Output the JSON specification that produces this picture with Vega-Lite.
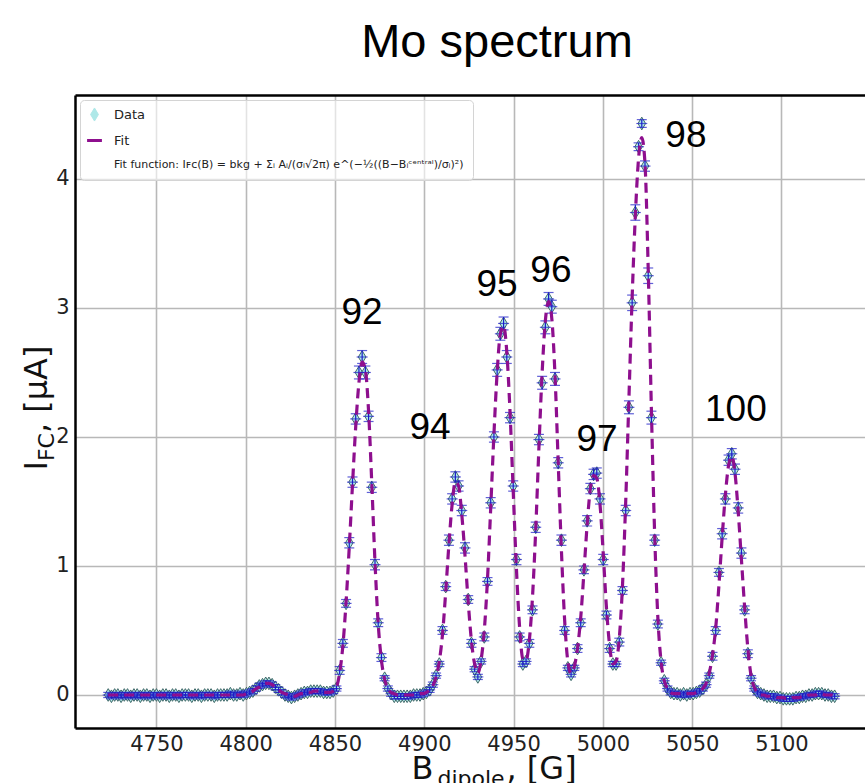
{
"$schema": "https://vega.github.io/schema/vega-lite/v6.json",
"width": 790,
"height": 633,
"autosize": {"type": "none"},
"padding": {"left": 75, "top": 95, "right": 0, "bottom": 55},
"background": "white",
"config": {"view": {"stroke": null}, "font": "DejaVu Sans"},
"title": {"text": "Mo spectrum", "font": "Liberation Sans", "fontSize": 47, "fontWeight": "normal", "color": "#000000", "anchor": "middle", "dx": 27, "dy": 46, "offset": 37, "baseline": "alphabetic"},
"datasets": {
"spectrum": [
{"B":4723.0,"I":0.00,"err":0.02,"fit":0.00},{"B":4724.8,"I":-0.01,"err":0.02,"fit":0.00},{"B":4726.6,"I":0.00,"err":0.02,"fit":0.00},{"B":4728.4,"I":0.00,"err":0.02,"fit":0.00},{"B":4730.2,"I":-0.01,"err":0.02,"fit":0.00},{"B":4732.0,"I":0.00,"err":0.02,"fit":0.00},{"B":4733.8,"I":0.00,"err":0.02,"fit":0.00},{"B":4735.6,"I":-0.01,"err":0.02,"fit":0.00},{"B":4737.4,"I":0.00,"err":0.02,"fit":0.00},{"B":4739.2,"I":0.00,"err":0.02,"fit":0.00},
{"B":4741.0,"I":-0.01,"err":0.02,"fit":0.00},{"B":4742.8,"I":0.00,"err":0.02,"fit":0.00},{"B":4744.6,"I":0.00,"err":0.02,"fit":0.00},{"B":4746.4,"I":-0.01,"err":0.02,"fit":0.00},{"B":4748.2,"I":0.00,"err":0.02,"fit":0.00},{"B":4750.0,"I":0.00,"err":0.02,"fit":0.00},{"B":4751.8,"I":-0.01,"err":0.02,"fit":0.00},{"B":4753.6,"I":0.00,"err":0.02,"fit":0.00},{"B":4755.4,"I":0.00,"err":0.02,"fit":0.00},{"B":4757.2,"I":-0.01,"err":0.02,"fit":0.00},
{"B":4759.0,"I":0.00,"err":0.02,"fit":0.00},{"B":4760.8,"I":0.00,"err":0.02,"fit":0.00},{"B":4762.6,"I":-0.01,"err":0.02,"fit":0.00},{"B":4764.4,"I":0.00,"err":0.02,"fit":0.00},{"B":4766.2,"I":0.00,"err":0.02,"fit":0.00},{"B":4768.0,"I":0.00,"err":0.02,"fit":0.00},{"B":4769.8,"I":-0.01,"err":0.02,"fit":0.00},{"B":4771.6,"I":0.00,"err":0.02,"fit":0.00},{"B":4773.4,"I":0.00,"err":0.02,"fit":0.00},{"B":4775.2,"I":-0.01,"err":0.02,"fit":0.00},
{"B":4777.0,"I":0.00,"err":0.02,"fit":0.00},{"B":4778.8,"I":0.00,"err":0.02,"fit":0.00},{"B":4780.6,"I":0.00,"err":0.02,"fit":0.00},{"B":4782.4,"I":-0.01,"err":0.02,"fit":0.00},{"B":4784.2,"I":0.00,"err":0.02,"fit":0.00},{"B":4786.0,"I":0.00,"err":0.02,"fit":0.00},{"B":4787.8,"I":0.00,"err":0.02,"fit":0.00},{"B":4789.6,"I":0.00,"err":0.02,"fit":0.00},{"B":4791.4,"I":0.01,"err":0.02,"fit":0.00},{"B":4793.2,"I":0.00,"err":0.02,"fit":0.00},
{"B":4795.0,"I":0.00,"err":0.02,"fit":0.00},{"B":4796.8,"I":0.01,"err":0.02,"fit":0.00},{"B":4798.6,"I":0.00,"err":0.02,"fit":0.00},{"B":4800.4,"I":0.01,"err":0.02,"fit":0.01},{"B":4802.2,"I":0.02,"err":0.02,"fit":0.02},{"B":4804.0,"I":0.03,"err":0.02,"fit":0.03},{"B":4805.8,"I":0.05,"err":0.02,"fit":0.05},{"B":4807.6,"I":0.07,"err":0.02,"fit":0.06},{"B":4809.4,"I":0.08,"err":0.02,"fit":0.08},{"B":4811.2,"I":0.09,"err":0.02,"fit":0.09},
{"B":4813.0,"I":0.09,"err":0.02,"fit":0.09},{"B":4814.8,"I":0.08,"err":0.02,"fit":0.08},{"B":4816.6,"I":0.06,"err":0.02,"fit":0.06},{"B":4818.4,"I":0.04,"err":0.02,"fit":0.04},{"B":4820.2,"I":0.02,"err":0.02,"fit":0.02},{"B":4822.0,"I":0.00,"err":0.02,"fit":0.01},{"B":4823.8,"I":-0.01,"err":0.02,"fit":0.00},{"B":4825.6,"I":-0.02,"err":0.02,"fit":-0.01},{"B":4827.4,"I":-0.01,"err":0.02,"fit":-0.01},{"B":4829.2,"I":0.00,"err":0.02,"fit":0.00},
{"B":4831.0,"I":0.01,"err":0.02,"fit":0.01},{"B":4832.8,"I":0.02,"err":0.02,"fit":0.01},{"B":4834.6,"I":0.02,"err":0.02,"fit":0.02},{"B":4836.4,"I":0.03,"err":0.02,"fit":0.02},{"B":4838.2,"I":0.03,"err":0.02,"fit":0.03},{"B":4840.0,"I":0.03,"err":0.02,"fit":0.03},{"B":4841.8,"I":0.03,"err":0.02,"fit":0.03},{"B":4843.6,"I":0.02,"err":0.02,"fit":0.02},{"B":4845.4,"I":0.02,"err":0.02,"fit":0.02},{"B":4847.2,"I":0.02,"err":0.02,"fit":0.02},
{"B":4849.0,"I":0.03,"err":0.02,"fit":0.03},{"B":4850.8,"I":0.05,"err":0.02,"fit":0.06},{"B":4852.6,"I":0.19,"err":0.03,"fit":0.17},{"B":4854.4,"I":0.40,"err":0.03,"fit":0.38},{"B":4856.2,"I":0.71,"err":0.03,"fit":0.72},{"B":4858.0,"I":1.18,"err":0.04,"fit":1.15},{"B":4859.8,"I":1.65,"err":0.04,"fit":1.63},{"B":4861.6,"I":2.14,"err":0.04,"fit":2.08},{"B":4863.4,"I":2.50,"err":0.05,"fit":2.42},{"B":4865.2,"I":2.62,"err":0.05,"fit":2.58},
{"B":4867.0,"I":2.50,"err":0.05,"fit":2.52},{"B":4868.8,"I":2.16,"err":0.04,"fit":2.20},{"B":4870.6,"I":1.61,"err":0.04,"fit":1.64},{"B":4872.4,"I":1.01,"err":0.04,"fit":1.03},{"B":4874.2,"I":0.56,"err":0.03,"fit":0.55},{"B":4876.0,"I":0.29,"err":0.03,"fit":0.27},{"B":4877.8,"I":0.13,"err":0.02,"fit":0.12},{"B":4879.6,"I":0.05,"err":0.02,"fit":0.05},{"B":4881.4,"I":0.01,"err":0.02,"fit":0.02},{"B":4883.2,"I":-0.01,"err":0.02,"fit":0.01},
{"B":4885.0,"I":-0.01,"err":0.02,"fit":0.00},{"B":4886.8,"I":-0.01,"err":0.02,"fit":0.00},{"B":4888.6,"I":-0.01,"err":0.02,"fit":0.00},{"B":4890.4,"I":-0.01,"err":0.02,"fit":0.00},{"B":4892.2,"I":-0.01,"err":0.02,"fit":0.00},{"B":4894.0,"I":0.00,"err":0.02,"fit":0.00},{"B":4895.8,"I":0.00,"err":0.02,"fit":0.00},{"B":4897.6,"I":0.00,"err":0.02,"fit":0.01},{"B":4899.4,"I":0.01,"err":0.02,"fit":0.01},{"B":4901.2,"I":0.02,"err":0.02,"fit":0.02},
{"B":4903.0,"I":0.04,"err":0.02,"fit":0.04},{"B":4904.8,"I":0.08,"err":0.02,"fit":0.07},{"B":4906.6,"I":0.15,"err":0.02,"fit":0.14},{"B":4908.4,"I":0.24,"err":0.02,"fit":0.26},{"B":4910.2,"I":0.50,"err":0.03,"fit":0.47},{"B":4912.0,"I":0.84,"err":0.03,"fit":0.80},{"B":4913.8,"I":1.20,"err":0.04,"fit":1.17},{"B":4915.6,"I":1.52,"err":0.04,"fit":1.48},{"B":4917.4,"I":1.69,"err":0.04,"fit":1.65},{"B":4919.2,"I":1.62,"err":0.04,"fit":1.62},
{"B":4921.0,"I":1.43,"err":0.04,"fit":1.40},{"B":4922.8,"I":1.14,"err":0.04,"fit":1.08},{"B":4924.6,"I":0.74,"err":0.03,"fit":0.72},{"B":4926.4,"I":0.40,"err":0.03,"fit":0.42},{"B":4928.2,"I":0.20,"err":0.02,"fit":0.24},{"B":4930.0,"I":0.14,"err":0.02,"fit":0.17},{"B":4931.8,"I":0.26,"err":0.02,"fit":0.27},{"B":4933.6,"I":0.45,"err":0.03,"fit":0.50},{"B":4935.4,"I":0.88,"err":0.03,"fit":0.90},{"B":4937.2,"I":1.49,"err":0.04,"fit":1.45},
{"B":4939.0,"I":2.00,"err":0.04,"fit":2.02},{"B":4940.8,"I":2.52,"err":0.05,"fit":2.50},{"B":4942.6,"I":2.80,"err":0.05,"fit":2.80},{"B":4944.4,"I":2.88,"err":0.05,"fit":2.86},{"B":4946.2,"I":2.62,"err":0.05,"fit":2.66},{"B":4948.0,"I":2.15,"err":0.04,"fit":2.20},{"B":4949.8,"I":1.62,"err":0.04,"fit":1.58},{"B":4951.6,"I":1.05,"err":0.04,"fit":0.98},{"B":4953.4,"I":0.45,"err":0.03,"fit":0.52},{"B":4955.2,"I":0.24,"err":0.02,"fit":0.28},
{"B":4957.0,"I":0.26,"err":0.02,"fit":0.27},{"B":4958.8,"I":0.40,"err":0.03,"fit":0.42},{"B":4960.6,"I":0.66,"err":0.03,"fit":0.76},{"B":4962.4,"I":1.30,"err":0.04,"fit":1.28},{"B":4964.2,"I":1.98,"err":0.04,"fit":1.92},{"B":4966.0,"I":2.42,"err":0.05,"fit":2.50},{"B":4967.8,"I":2.85,"err":0.05,"fit":2.90},{"B":4969.6,"I":3.07,"err":0.05,"fit":3.05},{"B":4971.4,"I":3.01,"err":0.05,"fit":2.92},{"B":4973.2,"I":2.45,"err":0.05,"fit":2.48},
{"B":4975.0,"I":1.80,"err":0.04,"fit":1.80},{"B":4976.8,"I":1.20,"err":0.04,"fit":1.12},{"B":4978.6,"I":0.50,"err":0.03,"fit":0.58},{"B":4980.4,"I":0.21,"err":0.02,"fit":0.26},{"B":4982.2,"I":0.16,"err":0.02,"fit":0.17},{"B":4984.0,"I":0.21,"err":0.02,"fit":0.22},{"B":4985.8,"I":0.36,"err":0.03,"fit":0.36},{"B":4987.6,"I":0.56,"err":0.03,"fit":0.60},{"B":4989.4,"I":0.97,"err":0.03,"fit":0.95},{"B":4991.2,"I":1.35,"err":0.04,"fit":1.32},
{"B":4993.0,"I":1.60,"err":0.04,"fit":1.60},{"B":4994.8,"I":1.71,"err":0.04,"fit":1.70},{"B":4996.6,"I":1.72,"err":0.04,"fit":1.68},{"B":4998.4,"I":1.52,"err":0.04,"fit":1.48},{"B":5000.2,"I":1.05,"err":0.04,"fit":1.10},{"B":5002.0,"I":0.62,"err":0.03,"fit":0.68},{"B":5003.8,"I":0.36,"err":0.03,"fit":0.38},{"B":5005.6,"I":0.24,"err":0.02,"fit":0.24},{"B":5007.4,"I":0.24,"err":0.02,"fit":0.26},{"B":5009.2,"I":0.41,"err":0.03,"fit":0.44},
{"B":5011.0,"I":0.81,"err":0.03,"fit":0.85},{"B":5012.8,"I":1.43,"err":0.04,"fit":1.50},{"B":5014.6,"I":2.23,"err":0.05,"fit":2.30},{"B":5016.4,"I":3.04,"err":0.06,"fit":3.08},{"B":5018.2,"I":3.74,"err":0.06,"fit":3.72},{"B":5020.0,"I":4.25,"err":0.03,"fit":4.16},{"B":5021.8,"I":4.43,"err":0.03,"fit":4.32},{"B":5023.6,"I":4.10,"err":0.04,"fit":4.12},{"B":5025.4,"I":3.25,"err":0.06,"fit":3.30},{"B":5027.2,"I":2.15,"err":0.05,"fit":2.20},
{"B":5029.0,"I":1.20,"err":0.04,"fit":1.25},{"B":5030.8,"I":0.55,"err":0.03,"fit":0.60},{"B":5032.6,"I":0.25,"err":0.02,"fit":0.26},{"B":5034.4,"I":0.11,"err":0.02,"fit":0.11},{"B":5036.2,"I":0.05,"err":0.02,"fit":0.05},{"B":5038.0,"I":0.02,"err":0.02,"fit":0.02},{"B":5039.8,"I":0.01,"err":0.02,"fit":0.01},{"B":5041.6,"I":0.01,"err":0.02,"fit":0.01},{"B":5043.4,"I":0.00,"err":0.02,"fit":0.01},{"B":5045.2,"I":0.01,"err":0.02,"fit":0.01},
{"B":5047.0,"I":0.00,"err":0.02,"fit":0.01},{"B":5048.8,"I":0.01,"err":0.02,"fit":0.01},{"B":5050.6,"I":0.01,"err":0.02,"fit":0.01},{"B":5052.4,"I":0.02,"err":0.02,"fit":0.02},{"B":5054.2,"I":0.03,"err":0.02,"fit":0.03},{"B":5056.0,"I":0.05,"err":0.02,"fit":0.05},{"B":5057.8,"I":0.08,"err":0.02,"fit":0.09},{"B":5059.6,"I":0.15,"err":0.02,"fit":0.17},{"B":5061.4,"I":0.30,"err":0.03,"fit":0.31},{"B":5063.2,"I":0.50,"err":0.03,"fit":0.52},
{"B":5065.0,"I":0.95,"err":0.03,"fit":0.85},{"B":5066.8,"I":1.25,"err":0.04,"fit":1.22},{"B":5068.6,"I":1.52,"err":0.04,"fit":1.55},{"B":5070.4,"I":1.82,"err":0.04,"fit":1.78},{"B":5072.2,"I":1.87,"err":0.04,"fit":1.85},{"B":5074.0,"I":1.75,"err":0.04,"fit":1.72},{"B":5075.8,"I":1.45,"err":0.04,"fit":1.42},{"B":5077.6,"I":1.10,"err":0.04,"fit":1.05},{"B":5079.4,"I":0.66,"err":0.03,"fit":0.68},{"B":5081.2,"I":0.32,"err":0.03,"fit":0.36},
{"B":5083.0,"I":0.13,"err":0.02,"fit":0.15},{"B":5084.8,"I":0.05,"err":0.02,"fit":0.06},{"B":5086.6,"I":0.02,"err":0.02,"fit":0.02},{"B":5088.4,"I":0.01,"err":0.02,"fit":0.00},{"B":5090.2,"I":0.00,"err":0.02,"fit":0.00},{"B":5092.0,"I":-0.01,"err":0.02,"fit":-0.01},{"B":5093.8,"I":-0.01,"err":0.02,"fit":-0.01},{"B":5095.6,"I":-0.01,"err":0.02,"fit":-0.01},{"B":5097.4,"I":-0.02,"err":0.02,"fit":-0.02},{"B":5099.2,"I":-0.02,"err":0.02,"fit":-0.02},
{"B":5101.0,"I":-0.03,"err":0.02,"fit":-0.02},{"B":5102.8,"I":-0.03,"err":0.02,"fit":-0.03},{"B":5104.6,"I":-0.03,"err":0.02,"fit":-0.03},{"B":5106.4,"I":-0.03,"err":0.02,"fit":-0.02},{"B":5108.2,"I":-0.02,"err":0.02,"fit":-0.02},{"B":5110.0,"I":-0.02,"err":0.02,"fit":-0.02},{"B":5111.8,"I":-0.01,"err":0.02,"fit":-0.01},{"B":5113.6,"I":-0.01,"err":0.02,"fit":-0.01},{"B":5115.4,"I":0.00,"err":0.02,"fit":0.00},{"B":5117.2,"I":0.00,"err":0.02,"fit":0.00},
{"B":5119.0,"I":0.01,"err":0.02,"fit":0.00},{"B":5120.8,"I":0.01,"err":0.02,"fit":0.01},{"B":5122.6,"I":0.01,"err":0.02,"fit":0.01},{"B":5124.4,"I":0.00,"err":0.02,"fit":0.00},{"B":5126.2,"I":0.00,"err":0.02,"fit":0.00},{"B":5128.0,"I":-0.01,"err":0.02,"fit":0.00},{"B":5129.8,"I":-0.01,"err":0.02,"fit":-0.01}
],
"peaks": [
{"label":"92","B":4865.1,"I":2.96},
{"label":"94","B":4903.2,"I":2.07},
{"label":"95","B":4940.7,"I":3.18},
{"label":"96","B":4970.9,"I":3.29},
{"label":"97","B":4996.7,"I":1.98},
{"label":"98","B":5046.5,"I":4.33},
{"label":"100","B":5074.5,"I":2.21}
]
},
"resolve": {"scale": {"x": "independent", "y": "independent"}, "axis": {"x": "independent", "y": "independent"}},
"layer": [
{
"data": {"name": "spectrum"},
"mark": {"type": "point", "shape": "M0,-1L0.6,0L0,1L-0.6,0Z", "filled": true, "fill": "#aee8e8", "stroke": "#2f5a5a", "strokeWidth": 0.9, "size": 160, "opacity": 1},
"encoding": {
"x": {"field": "B", "type": "quantitative", "scale": {"domain": [4704.4, 5146.8], "nice": false, "zero": false},
"axis": {"orient": "bottom", "values": [4750,4800,4850,4900,4950,5000,5050,5100], "format": "d", "labelFont": "DejaVu Sans", "labelFontSize": 21, "labelColor": "#222222", "labelPadding": 5, "labelFlush": false, "labelOverlap": false, "ticks": false, "grid": true, "gridColor": "#b8b8b8", "gridWidth": 1.6, "domain": true, "domainColor": "#000000", "domainWidth": 2.5, "title": "B", "titleFont": "DejaVu Sans", "titleFontSize": 32, "titleFontWeight": "normal", "titleColor": "#111111", "titleX": 336, "titleY": 50, "titleAlign": "left", "titleBaseline": "alphabetic", "titleAngle": 0}},
"y": {"field": "I", "type": "quantitative", "scale": {"domain": [-0.256, 4.651], "nice": false, "zero": false},
"axis": {"orient": "left", "values": [0,1,2,3,4], "format": "d", "labelFont": "DejaVu Sans", "labelFontSize": 21, "labelColor": "#222222", "labelPadding": 6, "labelFlush": false, "labelOverlap": false, "ticks": false, "grid": true, "gridColor": "#b8b8b8", "gridWidth": 1.6, "domain": true, "domainColor": "#000000", "domainWidth": 2.5, "title": "I", "titleFont": "DejaVu Sans", "titleFontSize": 32, "titleFontWeight": "normal", "titleColor": "#111111", "titleX": -29, "titleY": 375, "titleAngle": 270, "titleAlign": "left", "titleBaseline": "alphabetic"}}
}
},
{
"data": {"name": "spectrum"},
"mark": {"type": "errorbar", "ticks": {"size": 10, "thickness": 1.2}, "color": "#1c1cc8", "thickness": 1.2},
"encoding": {
"x": {"field": "B", "type": "quantitative", "scale": {"domain": [4704.4, 5146.8], "nice": false, "zero": false},
"axis": {"orient": "bottom", "labels": false, "ticks": false, "grid": false, "domain": false, "title": "dipole", "titleFont": "DejaVu Sans", "titleFontSize": 22, "titleFontWeight": "normal", "titleColor": "#111111", "titleX": 362, "titleY": 57, "titleAlign": "left", "titleBaseline": "alphabetic", "titleAngle": 0}},
"y": {"field": "I", "type": "quantitative", "scale": {"domain": [-0.256, 4.651], "nice": false, "zero": false},
"axis": {"orient": "left", "labels": false, "ticks": false, "grid": false, "domain": false, "title": "FC", "titleFont": "DejaVu Sans", "titleFontSize": 22, "titleFontWeight": "normal", "titleColor": "#111111", "titleX": -22, "titleY": 365.6, "titleAngle": 270, "titleAlign": "left", "titleBaseline": "alphabetic"}},
"yError": {"field": "err"}
}
},
{
"data": {"name": "spectrum"},
"mark": {"type": "tick", "orient": "horizontal", "size": 11, "thickness": 1.2, "color": "#1c1cc8"},
"encoding": {
"x": {"field": "B", "type": "quantitative", "scale": {"domain": [4704.4, 5146.8], "nice": false, "zero": false},
"axis": {"orient": "top", "labels": false, "ticks": false, "grid": false, "domain": true, "domainColor": "#000000", "domainWidth": 2.5, "title": null}},
"y": {"field": "I", "type": "quantitative", "scale": {"domain": [-0.256, 4.651], "nice": false, "zero": false}, "axis": null}
}
},
{
"data": {"name": "spectrum"},
"mark": {"type": "line", "strokeWidth": 3.2, "strokeDash": [10, 6], "interpolate": "monotone"},
"encoding": {
"x": {"field": "B", "type": "quantitative", "scale": {"domain": [4704.4, 5146.8], "nice": false, "zero": false},
"axis": {"orient": "bottom", "labels": false, "ticks": false, "grid": false, "domain": false, "title": ", [G]", "titleFont": "DejaVu Sans", "titleFontSize": 32, "titleFontWeight": "normal", "titleColor": "#111111", "titleX": 431, "titleY": 50, "titleAlign": "left", "titleBaseline": "alphabetic", "titleAngle": 0}},
"y": {"field": "fit", "type": "quantitative", "scale": {"domain": [-0.256, 4.651], "nice": false, "zero": false},
"axis": {"orient": "left", "labels": false, "ticks": false, "grid": false, "domain": false, "title": ", [µA]", "titleFont": "DejaVu Sans", "titleFontSize": 32, "titleFontWeight": "normal", "titleColor": "#111111", "titleX": -29, "titleY": 337.6, "titleAngle": 270, "titleAlign": "left", "titleBaseline": "alphabetic"}},
"color": {"datum": "Fit", "type": "nominal",
"scale": {"domain": ["Data", "Fit", "Fit function: Iꜰᴄ(B) = bkg + Σᵢ Aᵢ/(σᵢ√2π) e^(−½((B−Bᵢᶜᵉⁿᵗʳᵃˡ)/σᵢ)²)"], "range": ["#aee8e8", "#8e0f8e", "#ffffff"]},
"legend": {"title": null, "orient": "none", "legendX": 5, "legendY": 5, "padding": 9, "rowPadding": 10, "labelFont": "DejaVu Sans", "labelFontSize": 12, "labelColor": "#222222", "labelLimit": 600, "labelOffset": 14, "symbolSize": 256, "strokeColor": "#d4d4d4", "fillColor": "rgba(255,255,255,0.6)", "cornerRadius": 4,
"encode": {
"labels": {"update": {"fontSize": {"signal": "datum.value === 'Data' || datum.value === 'Fit' ? 13 : 11"}}},
"symbols": {"update": {
"shape": {"signal": "datum.value === 'Data' ? 'M0,-1L0.6,0L0,1L-0.6,0Z' : 'stroke'"},
"fill": {"signal": "datum.value === 'Data' ? '#aee8e8' : 'transparent'"},
"stroke": {"signal": "datum.value === 'Data' ? '#2f5a5a' : (datum.value === 'Fit' ? '#8e0f8e' : 'transparent')"},
"strokeWidth": {"signal": "datum.value === 'Data' ? 1 : 3"},
"size": {"signal": "datum.value === 'Data' ? 170 : 220"},
"strokeDash": {"value": []},
"opacity": {"value": 1}
}}}}
}
}
},
{
"data": {"name": "peaks"},
"mark": {"type": "text", "font": "Liberation Sans", "fontSize": 37, "align": "center", "baseline": "middle", "color": "#000000"},
"encoding": {
"x": {"field": "B", "type": "quantitative", "scale": {"domain": [4704.4, 5146.8], "nice": false, "zero": false}, "axis": null},
"y": {"field": "I", "type": "quantitative", "scale": {"domain": [-0.256, 4.651], "nice": false, "zero": false}, "axis": null},
"text": {"field": "label", "type": "nominal"}
}
}
]
}
